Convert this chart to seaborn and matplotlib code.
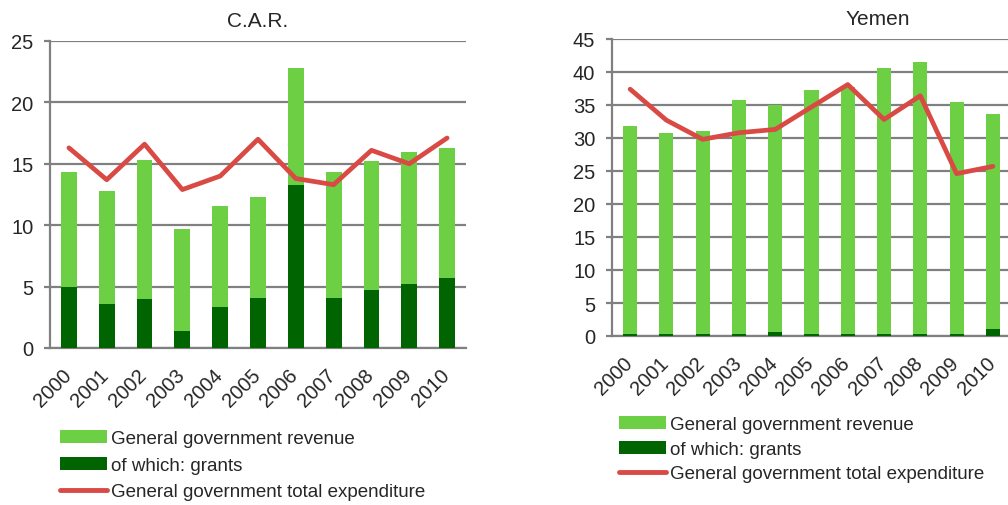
import matplotlib
matplotlib.use('Agg')
import pandas as pd
import matplotlib.pyplot as plt
import matplotlib.transforms as mtransforms
from matplotlib.patches import Patch
from matplotlib.lines import Line2D
import seaborn as sns

sns.set_style("white")
plt.rcParams['font.family'] = ['Liberation Sans', 'DejaVu Sans']

years = ['2000', '2001', '2002', '2003', '2004', '2005',
         '2006', '2007', '2008', '2009', '2010']

# C.A.R. (% of GDP)
car_revenue = [14.3, 12.8, 15.3, 9.65, 11.6, 12.3, 22.8, 14.3, 15.2, 16.0, 16.3]
car_grants = [5.0, 3.55, 4.0, 1.4, 3.3, 4.1, 13.3, 4.1, 4.7, 5.25, 5.7]
car_expenditure = [16.3, 13.7, 16.6, 12.9, 14.0, 17.0, 13.8, 13.3, 16.1, 15.0, 17.1]

# Yemen (% of GDP)
yem_revenue = [31.8, 30.8, 31.0, 35.7, 35.0, 37.2, 37.8, 40.6, 41.5, 35.4, 33.6]
yem_grants = [0.3, 0.3, 0.3, 0.3, 0.55, 0.3, 0.3, 0.3, 0.3, 0.3, 1.1]
yem_expenditure = [37.4, 32.7, 29.8, 30.8, 31.3, 34.7, 38.1, 32.8, 36.4, 24.6, 25.7]

labels = ['General government revenue', 'of which: grants',
          'General government total expenditure']

light_green = '#6CCF44'
dark_green = '#006400'
red = '#D94A45'
grey = '#808080'
tick_size = 14.5


def draw_panel(ax, revenue, grants, expenditure, ymax, title, title_x, bar_w):
    df = pd.DataFrame({'year': years, 'revenue': revenue,
                       'grants': grants, 'expenditure': expenditure})
    ax.set_axisbelow(True)
    sns.barplot(data=df, x='year', y='revenue', color=light_green,
                width=bar_w, saturation=1, linewidth=0, edgecolor='none',
                ax=ax, zorder=2)
    sns.barplot(data=df, x='year', y='grants', color=dark_green,
                width=bar_w, saturation=1, linewidth=0, edgecolor='none',
                ax=ax, zorder=3)
    sns.lineplot(data=df, x='year', y='expenditure', color=red,
                 linewidth=3.4, ax=ax, zorder=4, sort=False)

    ax.set_xlim(-0.5, len(years) - 0.5)
    ax.set_ylim(0, ymax)
    ax.set_yticks(range(0, ymax + 1, 5))
    ax.set_xlabel('')
    ax.set_ylabel('')
    ax.grid(axis='y', color=grey, linewidth=1.6)
    ax.grid(axis='x', visible=False)
    for s in ['top', 'right']:
        ax.spines[s].set_visible(False)
    for s in ['left', 'bottom']:
        ax.spines[s].set_color(grey)
        ax.spines[s].set_linewidth(1.6)

    # tick marks between categories, labels at the centres
    ax.set_xticks([i - 0.5 for i in range(len(years) + 1)], minor=True)
    ax.tick_params(axis='x', which='minor', length=5, width=1.6,
                   color=grey, direction='out')
    ax.tick_params(axis='x', which='major', length=0, pad=12, labelsize=tick_size)
    ax.tick_params(axis='y', which='major', length=4, width=1.6, color=grey,
                   direction='out', pad=8, labelsize=tick_size, left=True)
    ax.set_xticks(range(len(years)))
    ax.set_xticklabels(years, rotation=45, ha='right')
    shift = mtransforms.ScaledTranslation(6 / 100, 0, ax.figure.dpi_scale_trans)
    for lab in ax.get_xticklabels():
        lab.set_transform(lab.get_transform() + shift)
    ax.set_title(title, fontsize=15, x=title_x, pad=11)


fig = plt.figure(figsize=(10.08, 5.06), dpi=100)
ax1 = fig.add_axes([50 / 1008, 1 - 349 / 506, 416 / 1008, 307 / 506])
ax2 = fig.add_axes([612 / 1008, 1 - 337 / 506, 399 / 1008, 297 / 506])

draw_panel(ax1, car_revenue, car_grants, car_expenditure, 25, 'C.A.R.', 0.5, 0.42)
draw_panel(ax2, yem_revenue, yem_grants, yem_expenditure, 45, 'Yemen', 0.665, 0.39)

handles = [Patch(facecolor=light_green, edgecolor='none'),
           Patch(facecolor=dark_green, edgecolor='none'),
           Line2D([], [], color=red, linewidth=3.5)]
leg_kw = dict(frameon=False, fontsize=13.5, handlelength=2.5, handleheight=0.7,
              handletextpad=0.2, borderaxespad=0, borderpad=0)
fig.legend(handles, labels, loc='upper left', labelspacing=0.5,
           bbox_to_anchor=(60 / 1008, 1 - 431 / 506), **leg_kw)
fig.legend(handles, labels, loc='upper left', labelspacing=0.4,
           bbox_to_anchor=(619 / 1008, 1 - 417 / 506), **leg_kw)

fig.savefig('out.png', dpi=100)
